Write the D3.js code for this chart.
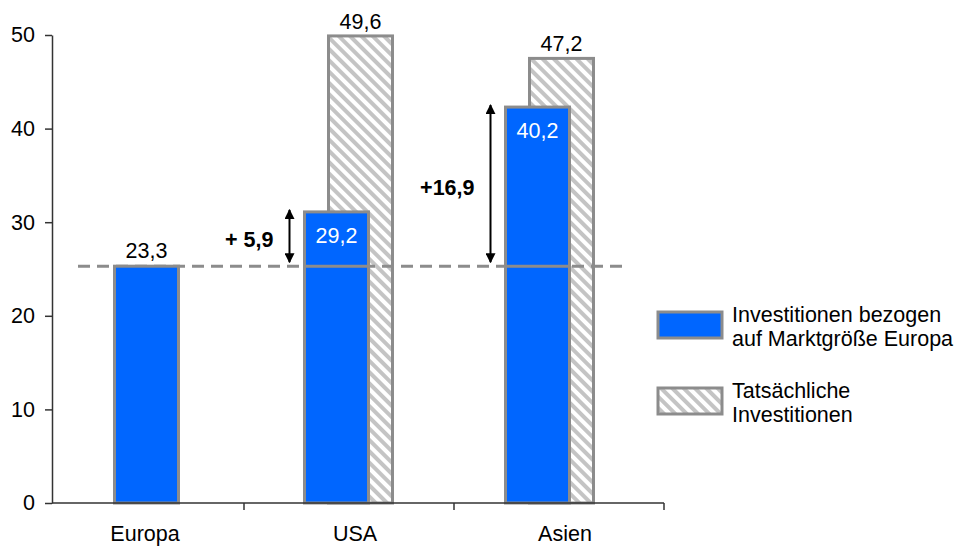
<!DOCTYPE html>
<html>
<head>
<meta charset="utf-8">
<script src="https://cdn.jsdelivr.net/npm/d3@7"></script>
<style>
  body { margin: 0; background: #fff; }
  text { font-family: "Liberation Sans", Arial, sans-serif; }
</style>
</head>
<body>
<div id="wrapper"></div>
<script>
// Data
const categories = ["Europa", "USA", "Asien"];
const adjustedValues = [25.3, 31.1, 42.3];       // bar heights as drawn
const actualValues = [null, 49.9, 47.5];
const adjustedLabels = ["23,3", "29,2", "40,2"];
const actualLabels = [null, "49,6", "47,2"];
const baselineValue = 25.3;
const deltaLabels = [null, "+ 5,9", "+16,9"];
const yTicks = [0, 10, 20, 30, 40, 50];
const legendLabels = [
  ["Investitionen bezogen", "auf Marktgröße Europa"],
  ["Tatsächliche", "Investitionen"],
];

function drawChart() {

  // 1. Dimensions
  const dimensions = {
    width: 965,
    height: 547,
    margin: { top: 35, right: 301, bottom: 44, left: 52 },
  };
  dimensions.boundedWidth = dimensions.width
    - dimensions.margin.left - dimensions.margin.right;
  dimensions.boundedHeight = dimensions.height
    - dimensions.margin.top - dimensions.margin.bottom;

  const fontSize = "21.5px";

  // 2. Canvas
  const wrapper = d3.select("#wrapper")
    .append("svg")
      .attr("width", dimensions.width)
      .attr("height", dimensions.height);

  const defs = wrapper.append("defs");
  const hatch = defs.append("pattern")
      .attr("id", "hatch")
      .attr("patternUnits", "userSpaceOnUse")
      .attr("width", 8)
      .attr("height", 8)
      .attr("patternTransform", "rotate(-45)");
  hatch.append("rect")
      .attr("width", 8).attr("height", 8).attr("fill", "#fff");
  hatch.append("line")
      .attr("x1", 2).attr("y1", 0).attr("x2", 2).attr("y2", 8)
      .attr("stroke", "#c4c4c4").attr("stroke-width", 4);

  const arrowMarker = (id, orient) => defs.append("marker")
      .attr("id", id)
      .attr("viewBox", "0 0 10 10")
      .attr("refX", 9).attr("refY", 5)
      .attr("markerWidth", 5).attr("markerHeight", 5)
      .attr("markerUnits", "strokeWidth")
      .attr("orient", orient)
    .append("path")
      .attr("d", "M0,0 L10,5 L0,10 Z")
      .attr("fill", "#000");
  arrowMarker("arrowEnd", "auto");
  arrowMarker("arrowStart", "auto-start-reverse");

  const bounds = wrapper.append("g")
      .attr("transform", `translate(${dimensions.margin.left}, ${dimensions.margin.top})`);

  // 3. Scales
  const yScale = d3.scaleLinear()
      .domain([0, 50])
      .range([dimensions.boundedHeight, 0]);

  const xLabelScale = d3.scaleBand()
      .domain(categories)
      .range([-12, 618]);

  const xBarScale = d3.scaleBand()
      .domain(categories)
      .range([-6, 597]);

  const barWidth = 64;
  const overlapShift = 24;

  const blueX = i => actualValues[i] == null
    ? xBarScale(categories[i]) + xBarScale.bandwidth() / 2 - barWidth / 2
    : xBarScale(categories[i]) + xBarScale.bandwidth() / 2 - (barWidth + overlapShift) / 2 + 1;
  const hatchX = i => blueX(i) + overlapShift;

  // 4. Draw data
  const rows = categories.map((c, i) => i);

  // hatched bars (behind)
  bounds.append("g").selectAll("rect")
    .data(rows.filter(i => actualValues[i] != null))
    .join("rect")
      .attr("x", i => hatchX(i))
      .attr("y", i => yScale(actualValues[i]))
      .attr("width", barWidth)
      .attr("height", i => yScale(0) - yScale(actualValues[i]))
      .attr("fill", "url(#hatch)")
      .attr("stroke", "#8c8c8c")
      .attr("stroke-width", 3);

  // baseline dashed line
  bounds.append("line")
      .attr("x1", 26)
      .attr("x2", 573)
      .attr("y1", yScale(baselineValue))
      .attr("y2", yScale(baselineValue))
      .attr("stroke", "#8c8c8c")
      .attr("stroke-width", 3)
      .attr("stroke-dasharray", "12 7");

  // blue bars
  bounds.append("g").selectAll("rect")
    .data(rows)
    .join("rect")
      .attr("x", i => blueX(i))
      .attr("y", i => yScale(adjustedValues[i]))
      .attr("width", barWidth)
      .attr("height", i => yScale(0) - yScale(adjustedValues[i]))
      .attr("fill", "#0066ff")
      .attr("stroke", "#8c8c8c")
      .attr("stroke-width", 3);

  // baseline seen through bars
  rows.filter(i => i > 0).forEach(i => {
    bounds.append("line")
        .attr("x1", blueX(i))
        .attr("x2", blueX(i) + barWidth)
        .attr("y1", yScale(baselineValue))
        .attr("y2", yScale(baselineValue))
        .attr("stroke", "#8c8c8c")
        .attr("stroke-width", 3);
  });

  // value labels
  bounds.append("text")
      .attr("x", blueX(0) + barWidth / 2)
      .attr("y", yScale(adjustedValues[0]) - 8)
      .attr("text-anchor", "middle")
      .style("font-size", fontSize)
      .text(adjustedLabels[0]);

  rows.filter(i => i > 0).forEach(i => {
    bounds.append("text")
        .attr("x", blueX(i) + barWidth / 2)
        .attr("y", yScale(adjustedValues[i]) + 31)
        .attr("text-anchor", "middle")
        .attr("fill", "#fff")
        .style("font-size", fontSize)
        .text(adjustedLabels[i]);

    bounds.append("text")
        .attr("x", hatchX(i) + barWidth / 2)
        .attr("y", yScale(actualValues[i]) - 7)
        .attr("text-anchor", "middle")
        .style("font-size", fontSize)
        .text(actualLabels[i]);

    // delta arrows
    const ax = blueX(i) - 15;
    bounds.append("line")
        .attr("x1", ax).attr("x2", ax)
        .attr("y1", yScale(baselineValue) - 4)
        .attr("y2", yScale(adjustedValues[i]) - 2)
        .attr("stroke", "#000")
        .attr("stroke-width", 2)
        .attr("marker-start", "url(#arrowStart)")
        .attr("marker-end", "url(#arrowEnd)");

    bounds.append("text")
        .attr("x", ax - 16)
        .attr("y", (yScale(baselineValue) + yScale(adjustedValues[i])) / 2 + 8)
        .attr("text-anchor", "end")
        .style("font-size", fontSize)
        .style("font-weight", "bold")
        .text(deltaLabels[i]);
  });

  // 5. Peripherals
  const yAxis = bounds.append("g")
      .call(d3.axisLeft(yScale).tickValues(yTicks).tickSize(7).tickSizeOuter(0).tickPadding(10));
  yAxis.select(".domain").attr("stroke", "#333").attr("stroke-width", 1.5);
  yAxis.selectAll(".tick line").attr("stroke", "#333").attr("stroke-width", 1.5);
  yAxis.selectAll(".tick text")
      .attr("fill", "#000")
      .style("font-family", "'Liberation Sans', Arial, sans-serif")
      .style("font-size", fontSize);

  const xAxisGroup = bounds.append("g")
      .attr("transform", `translate(0, ${dimensions.boundedHeight})`);
  xAxisGroup.append("line")
      .attr("x1", 0)
      .attr("x2", xLabelScale.range()[1] - 6)
      .attr("stroke", "#333")
      .attr("stroke-width", 1.5);
  xAxisGroup.selectAll(".xtick")
    .data(categories)
    .join("line")
      .attr("class", "xtick")
      .attr("x1", d => xLabelScale(d) + xLabelScale.bandwidth() - 6)
      .attr("x2", d => xLabelScale(d) + xLabelScale.bandwidth() - 6)
      .attr("y1", 0)
      .attr("y2", 7)
      .attr("stroke", "#333")
      .attr("stroke-width", 1.5);
  xAxisGroup.selectAll(".xlabel")
    .data(categories)
    .join("text")
      .attr("class", "xlabel")
      .attr("x", d => xLabelScale(d) + xLabelScale.bandwidth() / 2)
      .attr("y", 38)
      .attr("text-anchor", "middle")
      .style("font-size", fontSize)
      .text(d => d);

  // Legend
  const legend = wrapper.append("g")
      .attr("transform", "translate(658, 312)");
  const fills = ["#0066ff", "url(#hatch)"];
  legendLabels.forEach((lines, i) => {
    const g = legend.append("g")
        .attr("transform", `translate(0, ${i * 76})`);
    g.append("rect")
        .attr("width", 64)
        .attr("height", 26)
        .attr("fill", fills[i])
        .attr("stroke", "#8c8c8c")
        .attr("stroke-width", 3);
    lines.forEach((line, j) => {
      g.append("text")
          .attr("x", 74)
          .attr("y", 10 + j * 23.5)
          .style("font-size", fontSize)
          .text(line);
    });
  });
}
drawChart();
</script>
</body>
</html>
